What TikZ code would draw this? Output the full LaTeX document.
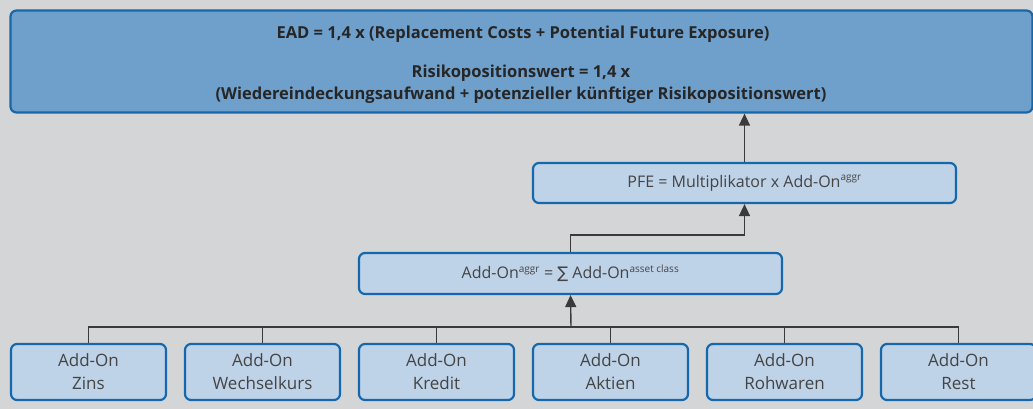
\documentclass[tikz,border=0pt]{standalone}
\usepackage{fontspec}
\setmainfont{Open Sans}
\newfontfamily\symfont{DejaVu Sans}
\usetikzlibrary{arrows.meta}
\definecolor{bg}{HTML}{D4D5D7}
\definecolor{darkfill}{HTML}{6F9FCB}
\definecolor{boxborder}{HTML}{1767AB}
\definecolor{lightfill}{HTML}{BED2E8}
\definecolor{linec}{HTML}{3A3A3A}
\definecolor{txt}{HTML}{444444}
\definecolor{txtdark}{HTML}{262626}
\newcommand{\sups}[1]{\textsuperscript{\fontsize{10}{10}\selectfont #1}}
\tikzset{
  topbox/.style={draw=boxborder, fill=darkfill, line width=2.2pt, rounded corners=6pt, inner sep=0pt},
  midbox/.style={draw=boxborder, fill=lightfill, line width=2.2pt, rounded corners=6pt, inner sep=0pt, text=txt, font=\fontsize{16}{19}\selectfont},
  leaf/.style={draw=boxborder, fill=lightfill, line width=2.2pt, rounded corners=6pt, inner sep=0pt, minimum width=155pt, minimum height=56pt, text=txt, align=center, font=\fontsize{17}{23}\selectfont},
  conn/.style={draw=linec, line width=1.4pt},
  arr/.style={conn, -{Triangle[length=12pt,width=11pt]}},
}
\begin{document}
\begin{tikzpicture}[x=1pt,y=-1pt]
\fill[bg] (0,0) rectangle (1033,409);
\useasboundingbox (0,0) rectangle (1033,409);
% top box
\node[topbox, minimum width=1022pt, minimum height=102pt] (ead) at (521.5,61.5) {};
\node[text=txtdark, font=\fontsize{16.5}{18}\selectfont\bfseries] (t1) at (523,34) {EAD = 1,4 x (Replacement Costs + Potential Future Exposure)};
\node[text=txtdark, font=\fontsize{16.5}{22}\selectfont\bfseries, align=center] (t2) at (521,84) {Risikopositionswert = 1,4 x\\(Wiedereindeckungsaufwand + potenzieller künftiger Risikopositionswert)};
% PFE
\node[midbox, minimum width=423pt, minimum height=40pt] (pfe) at (744.5,183) {PFE = Multiplikator x Add-On\sups{aggr}};
% Add-On aggr
\node[midbox, minimum width=423pt, minimum height=41pt] (agg) at (570.5,273.5) {Add-On\sups{aggr} = {\symfont ∑} Add-On\sups{asset class}};
% leaves
\node[leaf] (l1) at (88.5,372) {Add-On\\Zins};
\node[leaf] (l2) at (262.5,372) {Add-On\\Wechselkurs};
\node[leaf] (l3) at (436.5,372) {Add-On\\Kredit};
\node[leaf] (l4) at (610.5,372) {Add-On\\Aktien};
\node[leaf] (l5) at (784.5,372) {Add-On\\Rohwaren};
\node[leaf] (l6) at (958.5,372) {Add-On\\Rest};
% connectors
\coordinate (bus) at (571,327);
\draw[conn] (l1.north) |- (bus);
\draw[conn] (l6.north) |- (bus);
\foreach \n in {l2,l3,l4,l5} \draw[conn] (\n.north) -- ++(0,-16);
\draw[arr] (bus) -- (agg.south);
\draw[arr] (agg.north) -- ++(0,-17) -| (pfe.south);
\draw[arr] (pfe.north) -- (pfe.north |- ead.south);
\end{tikzpicture}
\end{document}
